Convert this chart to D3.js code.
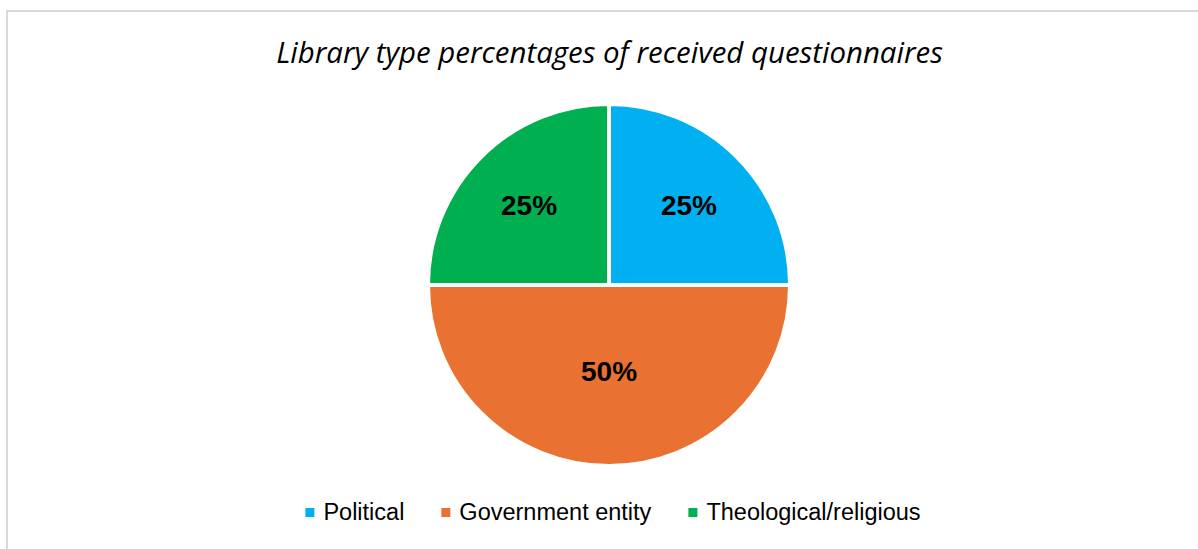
<!DOCTYPE html>
<html>
<head>
<meta charset="utf-8">
<script src="https://cdn.jsdelivr.net/npm/d3@7"></script>
<style>
  html, body { margin: 0; padding: 0; background: #fff; }
  svg { display: block; }
</style>
</head>
<body>
<svg id="chart" width="1198" height="549"></svg>
<script>
// Library types and their share of the returned questionnaires (%)
const categories = ["Political", "Government entity", "Theological/religious"];
const shares = [25, 50, 25];
const colors = ["#00B0F0", "#E97132", "#00B050"];
const title = "Library type percentages of received questionnaires";

const W = 1198, H = 549;
const svg = d3.select("#chart");

// chart frame
svg.append("rect")
  .attr("x", 7).attr("y", 11)
  .attr("width", W + 10).attr("height", H + 10)
  .attr("fill", "#fff")
  .attr("stroke", "#d9d9d9")
  .attr("stroke-width", 2);

// title
const titleText = svg.append("text")
  .attr("x", 609.5).attr("y", 63)
  .attr("text-anchor", "middle")
  .attr("font-family", "'Liberation Sans Narrow', 'Open Sans', sans-serif")
  .attr("font-style", "italic")
  .attr("font-size", 30)
  .attr("fill", "#000")
  .text(title);
// fit the title to its line width
const tw = titleText.node().getComputedTextLength();
titleText.attr("font-size", 30 * 667 / tw);

// pie
const cx = 609, cy = 285, r = 181;
const data = categories.map((c, i) => ({ name: c, value: shares[i], color: colors[i] }));
const pie = d3.pie().sort(null).value(d => d.value);
const arcs = pie(data);
const arc = d3.arc().innerRadius(0).outerRadius(r);

const g = svg.append("g").attr("transform", `translate(${cx},${cy})`);
g.selectAll("path.slice")
  .data(arcs)
  .join("path")
  .attr("class", "slice")
  .attr("d", arc)
  .attr("fill", d => d.data.color)
  .attr("stroke", "#fff")
  .attr("stroke-width", 4)
  .attr("stroke-linejoin", "round");

// data labels: wide slices get their label closer to the centre
const labelRadius = d => (d.endAngle - d.startAngle) > Math.PI / 2 + 0.01 ? r * 0.475 : r * 0.625;
g.selectAll("text.value")
  .data(arcs)
  .join("text")
  .attr("class", "value")
  .attr("transform", d => {
    const a = (d.startAngle + d.endAngle) / 2;
    const lr = labelRadius(d);
    return `translate(${lr * Math.sin(a)},${-lr * Math.cos(a)})`;
  })
  .attr("dy", "0.35em")
  .attr("text-anchor", "middle")
  .attr("font-family", "'Liberation Sans', Arial, sans-serif")
  .attr("font-weight", "bold")
  .attr("font-size", 28)
  .attr("fill", "#000")
  .text(d => d3.format(".0f")(d.data.value) + "%");

// legend
const legendY = 520, sw = 9, textGap = 9, itemGap = 37;
const legend = svg.append("g");
const items = legend.selectAll("g.item")
  .data(data)
  .join("g")
  .attr("class", "item");
items.append("rect")
  .attr("width", sw).attr("height", sw)
  .attr("y", legendY - 12)
  .attr("fill", d => d.color);
items.append("text")
  .attr("x", sw + textGap)
  .attr("y", legendY)
  .attr("font-family", "'Liberation Sans', Arial, sans-serif")
  .attr("font-size", 23.5)
  .attr("fill", "#000")
  .text(d => d.name);

let x = 0;
const offsets = [];
items.each(function () {
  offsets.push(x);
  const w = d3.select(this).select("text").node().getComputedTextLength();
  x += sw + textGap + w + itemGap;
});
const total = x - itemGap;
const startX = 613 - total / 2;
items.attr("transform", (d, i) => `translate(${startX + offsets[i]},0)`);
</script>
</body>
</html>
